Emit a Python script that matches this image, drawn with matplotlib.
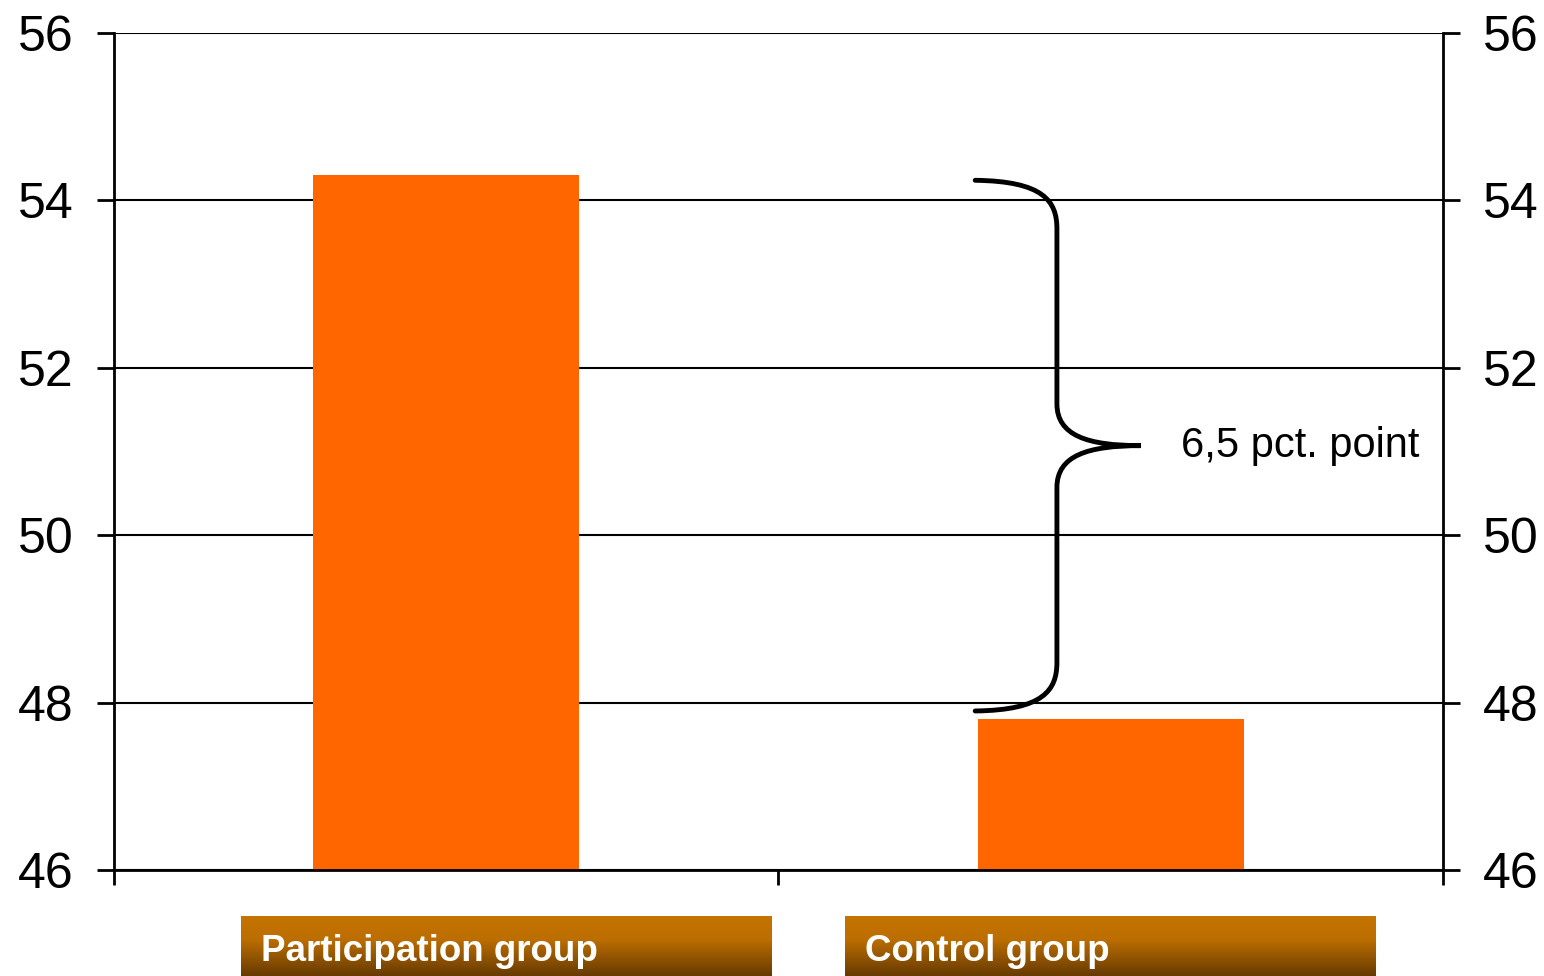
import matplotlib

matplotlib.use("Agg")
import matplotlib.pyplot as plt
import numpy as np
from matplotlib.colors import LinearSegmentedColormap
from matplotlib.path import Path
from matplotlib.patches import PathPatch

# ---------------------------------------------------------------------------
# Data
# ---------------------------------------------------------------------------
groups = ["Participation group", "Control group"]
values = [54.3, 47.8]
y_ticks = [46, 48, 50, 52, 54, 56]
diff_label = "6,5 pct. point"

BAR_COLOR = "#FF6600"
plt.rcParams["font.family"] = ["Liberation Sans", "DejaVu Sans"]

fig = plt.figure(figsize=(15.44, 9.76), dpi=100)
ax = fig.add_axes([0.0738, 0.1086, 0.8608, 0.8576])

x = np.arange(len(groups))
ax.bar(x, [v - y_ticks[0] for v in values], bottom=y_ticks[0], width=0.4,
       color=BAR_COLOR, zorder=2)

ax.set_xlim(-0.5, len(groups) - 0.5)
ax.set_ylim(y_ticks[0], y_ticks[-1])
ax.set_yticks(y_ticks)
ax.set_xticks([-0.5, 0.5, 1.5])
ax.set_xticklabels([])
ax.grid(axis="y", color="black", linewidth=1.5, zorder=1)

for side in ("left", "right", "bottom"):
    ax.spines[side].set_linewidth(2)
ax.spines["top"].set_visible(False)
ax.tick_params(axis="y", which="both", left=True, right=True, labelleft=True,
               labelright=True, length=12, width=2, pad=17, labelsize=36)
ax.tick_params(axis="x", length=11, width=2)

# ── Curly brace marking the difference ─────────────────────────────────────
y_top = max(values) - 0.06
y_bot = min(values) + 0.1
y_mid = (y_top + y_bot) / 2
x0, x1, x2 = 0.796, 0.919, 1.045
r = 0.58
verts = [
    (x0, y_top),
    (x1 - 0.02, y_top - 0.01), (x1, y_top - 0.25), (x1, y_top - r),
    (x1, y_mid + 0.5),
    (x1, y_mid + 0.12), (x2 - 0.08, y_mid), (x2, y_mid),
    (x2 - 0.08, y_mid), (x1, y_mid - 0.12), (x1, y_mid - 0.5),
    (x1, y_bot + r),
    (x1, y_bot + 0.25), (x1 - 0.02, y_bot + 0.01), (x0, y_bot),
]
codes = [Path.MOVETO,
         Path.CURVE4, Path.CURVE4, Path.CURVE4,
         Path.LINETO,
         Path.CURVE4, Path.CURVE4, Path.CURVE4,
         Path.CURVE4, Path.CURVE4, Path.CURVE4,
         Path.LINETO,
         Path.CURVE4, Path.CURVE4, Path.CURVE4]
ax.add_patch(PathPatch(Path(verts, codes), facecolor="none", edgecolor="black",
                       linewidth=3.5, capstyle="round", zorder=3, clip_on=False))
ax.text(x2 + 0.06, y_mid, diff_label, fontsize=30, va="center", ha="left",
        zorder=4)

# ── Gradient category label boxes ──────────────────────────────────────────
cmap = LinearSegmentedColormap.from_list(
    "box", [(0.0, "#C57400"), (0.4, "#BC6E00"), (1.0, "#663A00")])
grad = np.linspace(0, 1, 256).reshape(-1, 1)
box_x = [0.1561, 0.5473]
for bx, name in zip(box_x, groups):
    bax = fig.add_axes([bx, 0.0, 0.3433, 0.0615])
    bax.imshow(grad, aspect="auto", cmap=cmap, extent=[0, 1, 0, 1])
    bax.set_axis_off()
    bax.text(0.037, 0.4, name, color="white", fontsize=26.5, fontweight="bold",
             va="center", ha="left", transform=bax.transAxes)

fig.savefig("out.png", dpi=100)
